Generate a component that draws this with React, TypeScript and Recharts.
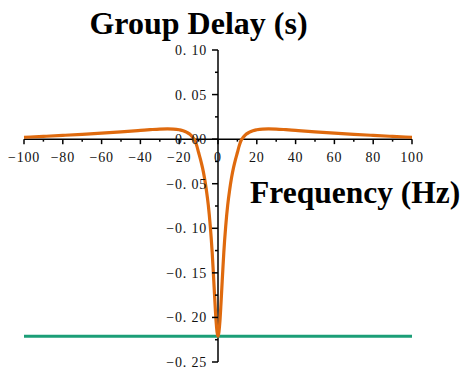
import React from "react";
import { LineChart, Line, XAxis, YAxis, ReferenceLine, ReferenceDot } from "recharts";

const freqs = [
  -100, -90, -80, -70, -60, -50, -40, -35, -30, -26, -23, -20, -18, -16, -14, -13, -12, -11, -10, -9, -8, -7, -6, -5, -4, -3, -2.5, -2, -1.5, -1, -0.5,
  0, 0.5, 1, 1.5, 2, 2.5, 3, 4, 5, 6, 7, 8, 9, 10, 11, 12, 13, 14, 16, 18, 20, 23, 26, 30, 35, 40, 50, 60, 70, 80, 90, 100,
];
const delays = [
  0.0021, 0.0031, 0.0042, 0.0054, 0.0067, 0.0082, 0.0098, 0.0106, 0.0113, 0.0115, 0.0113, 0.0105, 0.0095, 0.0075, 0.0045, 0.002, -0.001, -0.007, -0.015, -0.023, -0.032, -0.043, -0.057, -0.074, -0.097, -0.127, -0.146, -0.166, -0.186, -0.204, -0.216,
  -0.221, -0.216, -0.204, -0.186, -0.166, -0.146, -0.127, -0.097, -0.074, -0.057, -0.043, -0.032, -0.023, -0.015, -0.007, -0.001, 0.002, 0.0045, 0.0075, 0.0095, 0.0105, 0.0113, 0.0115, 0.0113, 0.0106, 0.0098, 0.0082, 0.0067, 0.0054, 0.0042, 0.0031, 0.0021,
];
const minDelay = -0.221;

const xTicks = [-100, -90, -80, -70, -60, -50, -40, -30, -20, -10, 0, 10, 20, 30, 40, 50, 60, 70, 80, 90, 100];
const xLabeled = [-100, -80, -60, -40, -20, 0, 20, 40, 60, 80, 100];
const yTicks = [-0.25, -0.225, -0.2, -0.175, -0.15, -0.125, -0.1, -0.075, -0.05, -0.025, 0, 0.025, 0.05, 0.075, 0.1];
const yLabeled = [-0.25, -0.2, -0.15, -0.1, -0.05, 0, 0.05, 0.1];

const data = freqs.map((f, i) => ({ f, delay: delays[i] }));

const serif = "'Liberation Serif', 'DejaVu Serif', serif";

const fmtX = (v: number) => (v < 0 ? "\u2212" + Math.abs(v) : String(v));
const fmtY = (v: number) => {
  const s = Math.abs(v).toFixed(2).replace(".", ". ");
  return v < 0 ? "\u2212" + s : s;
};

const XTick = ({ cx, cy, value }: any) => {
  const major = xLabeled.includes(value);
  return (
    <g>
      <line x1={cx} y1={cy} x2={cx} y2={cy + (major ? 5 : 2.5)} stroke="#000" strokeWidth={1.5} />
      {major && (
        <text x={cx} y={cy + 23} textAnchor="middle" fontFamily={serif} fontSize={14} letterSpacing={0.8} fill="#111">
          {fmtX(value)}
        </text>
      )}
    </g>
  );
};

const YTick = ({ cx, cy, value }: any) => {
  const major = yLabeled.some((v) => Math.abs(v - value) < 1e-9);
  return (
    <g>
      <line x1={cx} y1={cy} x2={cx - (major ? 6 : 3)} y2={cy} stroke="#000" strokeWidth={1.5} />
      {major && (
        <text x={cx - 11} y={cy + 5} textAnchor="end" fontFamily={serif} fontSize={14} letterSpacing={0.8} fill="#111">
          {fmtY(value)}
        </text>
      )}
    </g>
  );
};

export default function App() {
  return (
    <div style={{ position: "relative", width: 460, height: 365 }}>
      <LineChart width={460} height={365} data={data} margin={{ top: 42, right: 56, bottom: 11, left: 16 }}>
        <XAxis dataKey="f" type="number" domain={[-100, 100]} hide />
        <YAxis type="number" domain={[-0.25, 0.1]} hide />
        {xTicks.map((t) => (
          <ReferenceDot key={`xt${t}`} x={t} y={0} r={0} shape={(p: any) => <XTick {...p} value={t} />} />
        ))}
        {yTicks.map((t) => (
          <ReferenceDot key={`yt${t}`} x={0} y={t} r={0} shape={(p: any) => <YTick {...p} value={t} />} />
        ))}
        <ReferenceLine y={0} stroke="#000" strokeWidth={1.5} />
        <ReferenceLine x={0} stroke="#000" strokeWidth={1.5} />
        <ReferenceLine y={minDelay} stroke="#1B9E77" strokeWidth={3} />
        <Line
          type="monotone"
          dataKey="delay"
          stroke="#DF6A0E"
          strokeWidth={3.2}
          dot={false}
          isAnimationActive={false}
        />
      </LineChart>
      <svg width={468} height={373} style={{ position: "absolute", left: -8, top: -8, pointerEvents: "none" }}>
        <text x={198.5} y={34} textAnchor="middle" fontFamily={serif} fontWeight="bold" fontSize={32} fill="#000">
          Group Delay (s)
        </text>
        <text x={250} y={203} fontFamily={serif} fontWeight="bold" fontSize={31.5} fill="#000">
          Frequency (Hz)
        </text>
      </svg>
    </div>
  );
}
